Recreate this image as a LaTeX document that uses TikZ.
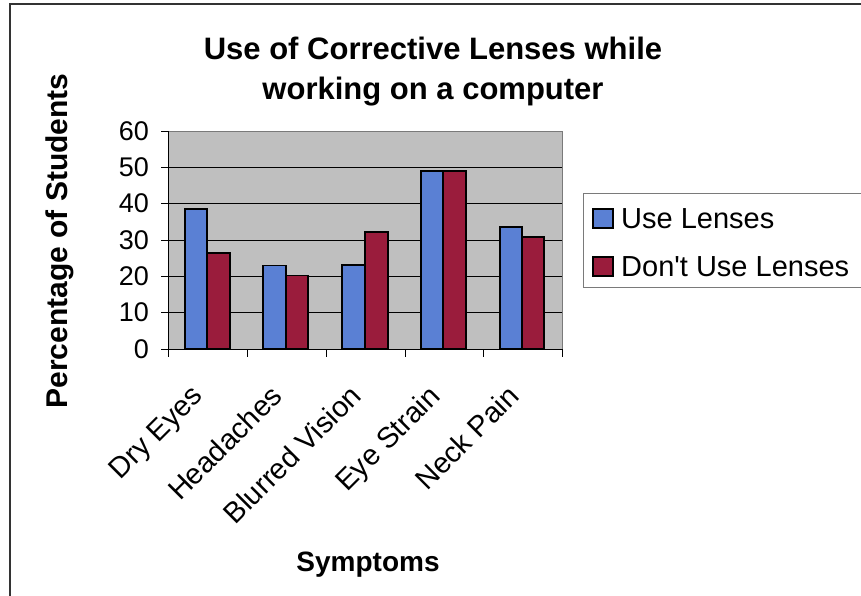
\documentclass[tikz,border=0pt]{standalone}
\usepackage{fontspec}
\setmainfont{Liberation Sans}
\usepackage{tikz}
\usepackage{xcolor}
\usetikzlibrary{positioning}
\definecolor{lensblue}{HTML}{5A80D4}
\definecolor{lensred}{HTML}{9A1C3C}
\definecolor{plotgray}{HTML}{BFBFBF}
\definecolor{framegray}{HTML}{333333}
\definecolor{edgegray}{HTML}{7A7A7A}

\begin{document}
\begin{tikzpicture}[x=1pt, y=-1pt,
            bluebar/.style={draw=black, fill=lensblue, line width=1.6pt},
            redbar/.style={draw=black, fill=lensred, line width=1.6pt},
            gridln/.style={black, line width=0.7pt},
            tickln/.style={black, line width=0.7pt},
            ticklbl/.style={anchor=east, inner sep=0pt, font=\fontsize{27}{27}\selectfont},
            catlbl/.style={anchor=north east, rotate=45, inner sep=0pt, font=\fontsize{29}{29}\selectfont},
            boldlbl/.style={inner sep=0pt, font=\fontsize{28}{28}\selectfont\bfseries},
            leglbl/.style={anchor=base west, inner sep=0pt, font=\fontsize{29}{29}\selectfont}]
            \useasboundingbox (0,0) rectangle (861,596);
            \clip (0,0) rectangle (861,596);
            % outer frame (top and left edges only)
            \draw[framegray, line width=1.4pt] (861,4) -- (10,4) -- (10,596);
            % title
            \node[boldlbl, align=center, font=\fontsize{31}{40}\selectfont\bfseries] (title) at (433,72)
                {Use of Corrective Lenses while\\working on a computer};
            % plot area
            \fill[plotgray] (168,131) rectangle (562,349);
            \draw[edgegray, line width=0.7pt] (168,131) -- (562,131) -- (562,349);
            \draw[gridln] (168,312.7) -- (562,312.7);
            \draw[gridln] (168,276.3) -- (562,276.3);
            \draw[gridln] (168,240.0) -- (562,240.0);
            \draw[gridln] (168,203.7) -- (562,203.7);
            \draw[gridln] (168,167.3) -- (562,167.3);
            % bars
            \draw[bluebar] (185,349) rectangle (207,209.1);
            \draw[redbar] (207,349) rectangle (230,252.7);
            \draw[bluebar] (263,349) rectangle (286,265.4);
            \draw[redbar] (286,349) rectangle (308,275.6);
            \draw[bluebar] (342,349) rectangle (365,264.7);
            \draw[redbar] (365,349) rectangle (388,231.7);
            \draw[bluebar] (421,349) rectangle (443,171.0);
            \draw[redbar] (443,349) rectangle (466,171.0);
            \draw[bluebar] (500,349) rectangle (522,226.9);
            \draw[redbar] (522,349) rectangle (544,237.0);
            % axes
            \draw[tickln] (168,131) -- (168,349) -- (562,349);
            \draw[tickln] (161,131) -- (168,131);
            \draw[tickln] (161,167.3) -- (168,167.3);
            \draw[tickln] (161,203.7) -- (168,203.7);
            \draw[tickln] (161,240.0) -- (168,240.0);
            \draw[tickln] (161,276.3) -- (168,276.3);
            \draw[tickln] (161,312.7) -- (168,312.7);
            \draw[tickln] (161,349) -- (168,349);
            \draw[tickln] (168,349) -- (168,357);
            \draw[tickln] (247,349) -- (247,357);
            \draw[tickln] (326,349) -- (326,357);
            \draw[tickln] (405,349) -- (405,357);
            \draw[tickln] (483,349) -- (483,357);
            \draw[tickln] (562,349) -- (562,357);
            % y tick labels
            \node[ticklbl] (y60) at (149,131) {60};
            \node[ticklbl] (y50) at (149,167.3) {50};
            \node[ticklbl] (y40) at (149,203.7) {40};
            \node[ticklbl] (y30) at (149,240.0) {30};
            \node[ticklbl] (y20) at (149,276.3) {20};
            \node[ticklbl] (y10) at (149,312.7) {10};
            \node[ticklbl] (y0) at (149,349) {0};
            % category labels
            \node[catlbl] (dry) at (190,383) {Dry Eyes};
            \node[catlbl] (head) at (269,383) {Headaches};
            \node[catlbl] (blur) at (348,383) {Blurred Vision};
            \node[catlbl] (strain) at (427,383) {Eye Strain};
            \node[catlbl] (neck) at (506,383) {Neck Pain};
            % axis titles
            \node[boldlbl, rotate=90, font=\fontsize{30}{30}\selectfont\bfseries] (ylbl) at (60,241) {Percentage of Students};
            \node[boldlbl] (xlbl) at (368,565) {Symptoms};
            % legend
            \draw[edgegray, line width=0.9pt] (583,193) rectangle (880,287);
            \draw[bluebar, line width=1.4pt] (593,209) rectangle (613,228);
            \draw[redbar, line width=1.4pt] (593,257) rectangle (613,276);
            \node[leglbl] (leguse) at (621,228) {Use Lenses};
            \node[leglbl] (legnot) at (621,276) {Don\textquotesingle t Use Lenses};
        \end{tikzpicture}
\end{document}
